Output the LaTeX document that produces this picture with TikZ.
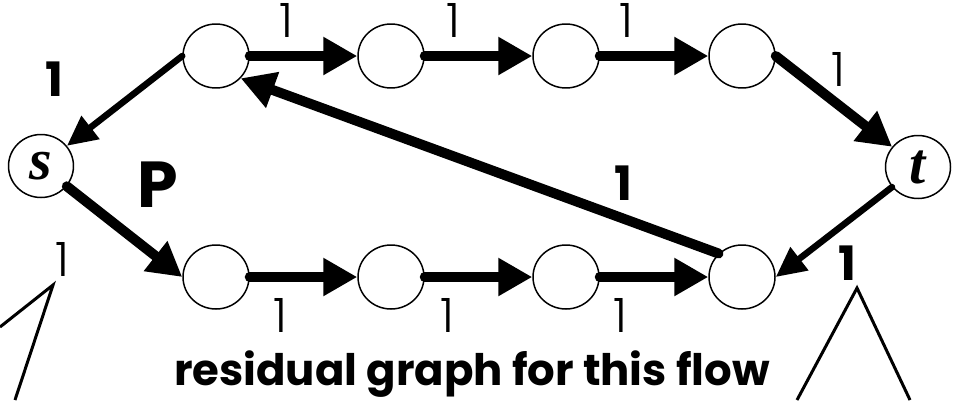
\documentclass[tikz,border=0pt]{standalone}
\usepackage{amsmath,amssymb}
\usepackage{fontspec}
\setmainfont{Poppins}
\newfontfamily\lightfont{Poppins Light}
\newfontfamily\varfont{Liberation Serif}
\usetikzlibrary{shapes.geometric,arrows.meta}

\tikzset{
  vert/.style={draw, ellipse, line width=0.85pt, minimum width=1.32cm, minimum height=1.28cm, inner sep=0pt},
  term/.style={vert, minimum width=1.3cm, minimum height=1.26cm, font=\varfont\bfseries\itshape\fontsize{33}{33}\selectfont},
  flow/.style={line width=0.2cm, line cap=round, -{Triangle[length=0.68cm,width=0.72cm]}},
  back/.style={line width=0.13cm, line cap=round, -{Triangle[length=0.6cm,width=0.56cm]}},
  lbllight/.style={font=\lightfont\fontsize{27}{27}\selectfont, inner sep=0pt},
  lblbold/.style={font=\bfseries\fontsize{27}{27}\selectfont, inner sep=0pt},
}

\begin{document}
\begin{tikzpicture}[x=0.02cm, y=-0.02cm]
\useasboundingbox (0,0) rectangle (955,400);

% s and t
\node[term] (s) at (41,166) {s};
\node[term] (t) at (918,167) {t};

% top row
\node[vert] (u1) at (216,56) {};
\node[vert] (u2) at (391,56) {};
\node[vert] (u3) at (566,56) {};
\node[vert] (u4) at (742,56) {};

% bottom row
\node[vert] (b1) at (216,277) {};
\node[vert] (b2) at (391,277) {};
\node[vert] (b3) at (566,277) {};
\node[vert] (b4) at (742,277) {};

% top path
\draw[back] (u1.west) -- (s) node[lblbold, midway, xshift=-1.4cm, yshift=0.43cm] {1};
\draw[flow] (u1.east) -- (u2.west) node[lbllight, pos=0.34, above=0.28cm] {1};
\draw[flow] (u2.east) -- (u3.west) node[lbllight, pos=0.27, above=0.28cm] {1};
\draw[flow] (u3.east) -- (u4.west) node[lbllight, pos=0.25, above=0.28cm] {1};
\draw[flow] (u4.east) -- (t) node[lbllight, midway, xshift=0.08cm, yshift=0.64cm] {1};

% bottom path
\draw[flow] (s) -- (b1.west) node[lbllight, midway, xshift=-1.24cm, yshift=-0.56cm] {1};
\draw[flow] (b1.east) -- (b2.west) node[lbllight, pos=0.29, below=0.32cm] {1};
\draw[flow] (b2.east) -- (b3.west) node[lbllight, pos=0.21, below=0.32cm] {1};
\draw[flow] (b3.east) -- (b4.west) node[lbllight, pos=0.19, below=0.32cm] {1};
\draw[back] (t) -- (b4.east) node[lblbold, midway, xshift=0.28cm, yshift=-0.62cm] {1};

% back edge
\draw[flow] (b4.135) -- (u1.-42) node[lblbold, pos=0.2, xshift=0cm, yshift=0.7cm] {1};

% texts
\node[font=\bfseries\fontsize{37}{37}\selectfont, anchor=base] (p) at (158,207) {P};
\node[font=\bfseries\fontsize{24.7}{24.7}\selectfont, anchor=base] (cap) at (472,385) {residual graph for this flow};

% callouts
\draw[line width=0.06cm] (0,327) -- (53,285) -- (15,400);
\draw[line width=0.06cm] (797,400) -- (857,288) -- (910,400);

\end{tikzpicture}
\end{document}
